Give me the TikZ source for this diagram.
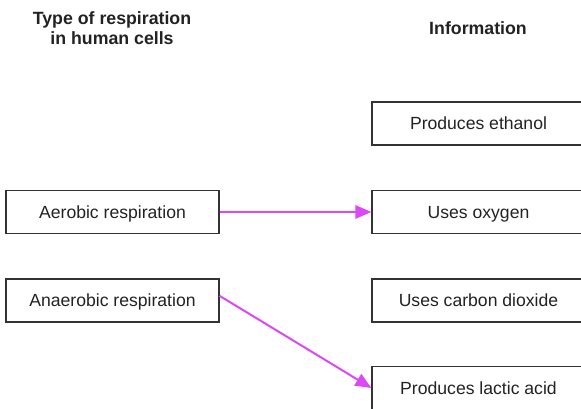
\documentclass[tikz,border=0pt]{standalone}
\usepackage{fontspec}
\setmainfont{Liberation Sans}
\usetikzlibrary{arrows.meta}
\definecolor{arrowc}{RGB}{220,72,245}
\definecolor{boxc}{RGB}{51,51,51}
\definecolor{txtc}{RGB}{34,34,34}
\begin{document}
\begin{tikzpicture}[x=0.75pt,y=-0.75pt,
  box/.style={draw=boxc,line width=0.9pt,minimum width=159.75pt,minimum height=32.25pt,inner sep=0pt,text height=9.5pt,text depth=0pt,font=\fontsize{13.2}{15}\selectfont,text=txtc},
  head/.style={font=\bfseries\fontsize{13.3}{15}\selectfont,align=center,text=txtc},
  conn/.style={draw=arrowc,line width=1.5pt,-{Triangle[length=12pt,width=10pt]}}]
\useasboundingbox (0,0) rectangle (581,409);
\clip (0,0) rectangle (581,409);
\node[head] (h1) at (112,28) {Type of respiration\\in human cells};
\node[head] (h2) at (478,28) {Information};
\node[box] (a) at (112.5,212) {Aerobic respiration};
\node[box] (b) at (112.5,300.5) {Anaerobic respiration};
\node[box] (r1) at (478.5,123.5) {Produces ethanol};
\node[box] (r2) at (478.5,212) {Uses oxygen};
\node[box] (r3) at (478.5,300.5) {Uses carbon dioxide};
\node[box] (r4) at (478.5,388) {Produces lactic acid};
\draw[conn] (a.east) -- (r2.west);
\draw[conn] ([yshift=3.5pt]b.east) -- (r4.west);
\end{tikzpicture}
\end{document}
